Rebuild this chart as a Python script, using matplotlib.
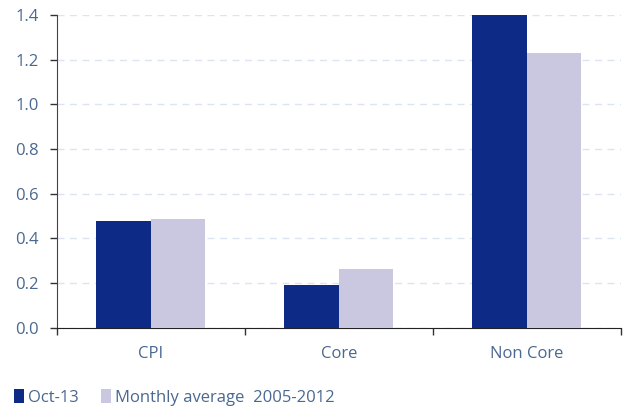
import matplotlib.pyplot as plt
import numpy as np

categories = ["CPI", "Core", "Non Core"]
oct13 = [0.478, 0.192, 1.40]
avg_05_12 = [0.487, 0.264, 1.23]
series_names = ["Oct-13", "Monthly average  2005-2012"]

dark = '#0d2a87'
light = '#c9c8e0'
txt = '#4a6890'

plt.rcParams['font.family'] = ['Open Sans', 'DejaVu Sans']

fig = plt.figure(figsize=(6.3, 4.13), dpi=100)
ax = fig.add_axes([0.0905, 0.206, 0.895, 0.758])

x = np.arange(len(categories))
w = 0.29
ax.bar(x - w / 2, oct13, w, color=dark, label=series_names[0], zorder=3)
ax.bar(x + w / 2, avg_05_12, w, color=light, label=series_names[1], zorder=3)

ax.set_xlim(-0.5, len(categories) - 0.5)
ax.set_ylim(0, 1.4)
ax.set_yticks(np.arange(0, 1.41, 0.2))
ax.set_yticklabels([f"{v:.1f}" for v in np.arange(0, 1.41, 0.2)])
ax.yaxis.grid(True, color='#dce4f2', linestyle=(0, (5, 4)), linewidth=1)
ax.set_axisbelow(True)

ax.set_xticks(x)
ax.set_xticklabels(categories)
ax.tick_params(axis='x', which='major', length=0, pad=13)
ax.set_xticks(np.arange(-0.5, len(categories)), minor=True)
ax.tick_params(axis='x', which='minor', length=5, color='#333333', width=1)
ax.tick_params(axis='y', length=5, color='#333333', width=1, pad=8)
ax.tick_params(labelsize=12, labelcolor=txt)

for s in ['top', 'right']:
    ax.spines[s].set_visible(False)
ax.spines['left'].set_color('#444444')
ax.spines['bottom'].set_color('#222222')

ax.legend(loc='lower left', bbox_to_anchor=(-0.088, -0.27), ncol=2, frameon=False,
          handlelength=0.6, handleheight=0.9, handletextpad=0.25, columnspacing=1.3,
          fontsize=12, labelcolor=txt, borderaxespad=0)

fig.savefig('out.png', dpi=100)
